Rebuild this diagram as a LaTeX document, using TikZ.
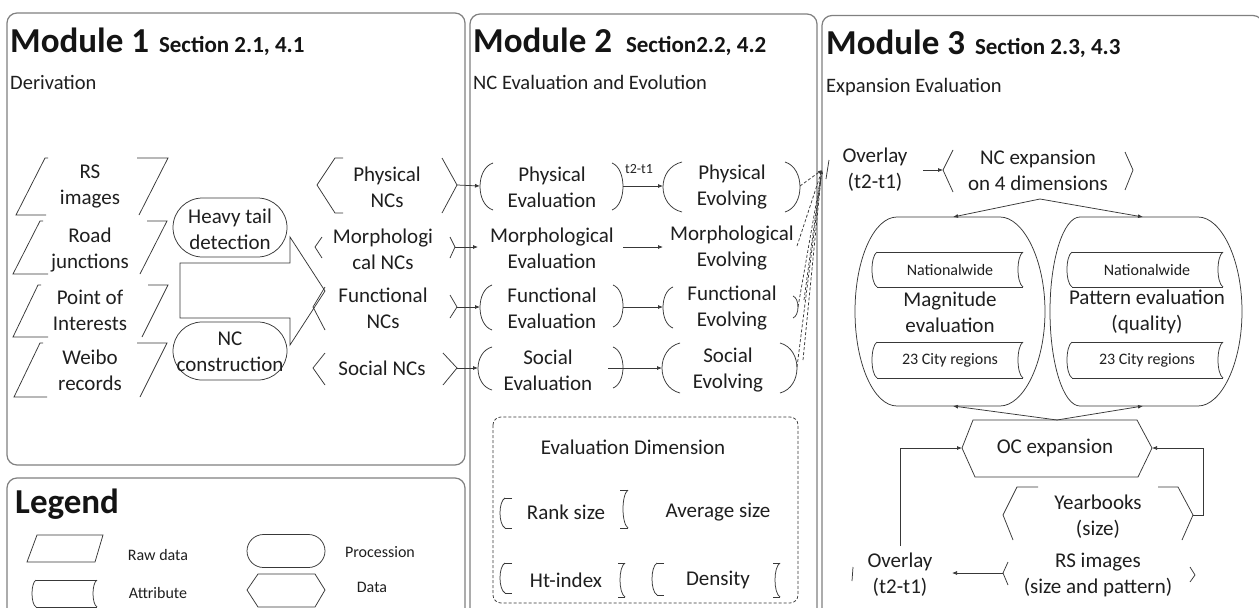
\documentclass[tikz,border=0pt]{standalone}
\usepackage{fontspec}
\setmainfont{Carlito}
\usetikzlibrary{arrows.meta,shapes.misc}
\newcommand\brk[4]{\draw[ln] (#1,#3) .. controls ({#1+(#2-#1)*1.333},{#3+0.12*(#4-#3)}) and ({#1+(#2-#1)*1.333},{#4-0.12*(#4-#3)}) .. (#1,#4);}
\begin{document}
\begin{tikzpicture}[x=1pt,y=-1pt,
  box/.style={draw=black!50,line width=1.2pt,rounded corners=10pt},
  ln/.style={draw=black!78,line width=0.75pt},
  dl/.style={ln,dash pattern=on 3pt off 2pt},
  arr/.style={ln,-{Latex[length=5pt,width=4pt]}},
  txt/.style={align=center,inner sep=0pt,font=\fontsize{21}{26}\selectfont,text=black!88},
  sm/.style={txt,font=\fontsize{16}{19}\selectfont},
  ttl/.style={anchor=base west,inner sep=0pt,font=\fontsize{35}{40}\selectfont\bfseries,text=black!92},
  sub/.style={anchor=base west,inner sep=0pt,font=\fontsize{20.5}{24}\selectfont,text=black!88},
]
\useasboundingbox (0,0) rectangle (1259,608);
\fill[white] (0,0) rectangle (1259,608);
% module frames
\draw[box] (7,13) rectangle (465,465);
\draw[box] (7,478) rectangle (465,640);
\draw[box] (470,14) rectangle (817,640);
\draw[box] (822,15.5) rectangle (1263,640);
% titles
\node[ttl] (t1) at (10,52) {Module 1\hspace{10pt}{\fontsize{23}{26}\selectfont Section 2.1, 4.1}};
\node[sub] (s1) at (10,89) {Derivation};
\node[ttl] (t2) at (473,52) {Module 2\hspace{14pt}{\fontsize{23}{26}\selectfont Section2.2, 4.2}};
\node[sub] (s2) at (473,89) {NC Evaluation and Evolution};
\node[ttl] (t3) at (826,54) {Module 3\hspace{10pt}{\fontsize{23}{26}\selectfont Section 2.3, 4.3}};
\node[sub] (s3) at (826,92) {Expansion Evaluation};

% ---------- Module 1 ----------
\node[txt] (rs) at (90,186) {RS\\images};
\draw[ln] (48,158) -- (45,158) -- (16,215) -- (46,215);
\draw[ln] (137,158) -- (168,158) -- (139,215);
\node[txt] (rj) at (90,250) {Road\\junctions};
\draw[ln] (43,221) -- (40,221) -- (13,274) -- (48,274);
\draw[ln] (147,221) -- (167,221) -- (140,274);
\node[txt] (poi) at (90,310) {Point of\\Interests};
\draw[ln] (41,285) -- (38,285) -- (13,337) -- (48,337);
\draw[ln] (148,285) -- (168,285) -- (142,337);
\node[txt] (wb) at (90,370) {Weibo\\records};
\draw[ln] (43,343) -- (40,343) -- (14,397) -- (47,397);
\draw[ln] (137,343) -- (167,343) -- (140,397);

\node[ln,rounded rectangle,minimum width=114pt,minimum height=59pt,inner sep=0pt] (htS) at (230,227.5) {};
\node[txt] (ht) at (230,229) {Heavy tail\\detection};
\node[ln,rounded rectangle,minimum width=114pt,minimum height=58pt,inner sep=0pt] (ncS) at (230,351) {};
\node[txt] (nc) at (230,352) {NC\\construction};
\draw[ln] (180,263) -- (290,263) -- (290,237) -- (325,291) -- (290,345) -- (290,318) -- (180,318) -- cycle;

% NCs
\node[txt] (pn) at (387,187) {Physical\\NCs};
\draw[ln] (343,158) -- (335,158) -- (317,185) -- (335,213) -- (343,213);
\draw[ln] (442,158) -- (457,185) -- (442,213);
\node[txt] (mn) at (383,249) {Morphologi\\cal NCs};
\draw[ln] (322,237) -- (315,247) -- (322,258);
\draw[ln] (450,237) -- (455,247) -- (450,258);
\node[txt] (fn) at (383,308) {Functional\\NCs};
\draw[ln] (325,287) -- (313,307) -- (325,330);
\draw[ln] (450,295) -- (457,307) -- (450,318);
\node[txt] (sn) at (382,368) {Social NCs};
\draw[ln] (325,353) -- (313,368) -- (325,385);
\draw[ln] (443,353) -- (457,368) -- (443,385);
\coordinate (pnR) at (457,185);
\coordinate (mnR) at (455,247);
\coordinate (fnR) at (457,307);
\coordinate (snR) at (457,368);

% ---------- Module 2 ----------
\node[txt] (pe) at (552,187) {Physical\\Evaluation};
\brk{493}{480}{163}{210} \brk{612}{623}{163}{210}
\node[txt] (pv) at (732,187) {Physical\\Evolving};
\brk{682}{663}{162}{212} \brk{785}{800}{162}{212}
\node[txt] (me) at (552,248) {Morphological\\Evaluation};
\node[txt] (mv) at (732,248) {Morphological\\Evolving};
\node[txt] (fe) at (552,308) {Functional\\Evaluation};
\brk{492}{480}{285}{330} \brk{613}{623}{285}{327}
\node[txt] (fv) at (732,308) {Functional\\Evolving};
\brk{673}{663}{287}{328} \brk{793}{798}{296}{318}
\node[txt] (se) at (548,370) {Social\\Evaluation};
\brk{492}{478}{347}{390} \brk{613}{623}{347}{388}
\node[txt] (sv) at (728,370) {Social\\Evolving};
\brk{680}{662}{343}{393} \brk{780}{797}{343}{393}

\coordinate (peL) at (480,186);
\coordinate (meL) at (478,247);
\coordinate (feL) at (480,307);
\coordinate (seL) at (478,368);
\draw[arr] (pnR) -- (peL);
\draw[arr] (mnR) -- (meL);
\draw[arr] (fnR) -- (feL);
\draw[arr] (snR) -- (seL);

\coordinate (peR) at (623,186);
\coordinate (pvL) at (663,186);
\coordinate (meR) at (623,247);
\coordinate (mvL) at (663,247);
\coordinate (feR) at (623,307);
\coordinate (fvL) at (663,307);
\coordinate (seR) at (608,368);
\coordinate (svL) at (662,368);
\draw[arr] (peR) -- node[above=9pt,xshift=-4pt,font=\fontsize{14}{16}\selectfont,text=black!85] (dt) {t2-t1} (pvL);
\draw[arr] (meR) -- (mvL);
\draw[arr] (feR) -- (fvL);
\draw[arr] (seR) -- (svL);

% dashed convergence
\coordinate (pvR) at (800,186);
\coordinate (mvR) at (797,246);
\coordinate (fvR) at (798,307);
\coordinate (svR) at (797,367);
\coordinate (ovL) at (822,170);
\draw[dl,-{Latex[length=4pt,width=3pt]}] (pvR) -- (ovL);
\draw[dl,-{Latex[length=4pt,width=3pt]}] (mvR) -- (ovL);
\draw[dl,-{Latex[length=4pt,width=3pt]}] (fvR) -- (ovL);
\draw[dl,-{Latex[length=4pt,width=3pt]}] (svR) -- (ovL);
\draw[dl] (804,300) -- (821,175);
\draw[dl] (803,360) -- (821,178);

% evaluation dimension
\draw[ln,dash pattern=on 3pt off 2pt,rounded corners=8pt] (493,417) rectangle (798,603);
\node[txt] (ed) at (633,447) {Evaluation Dimension};
\node[txt] (rk) at (566,512) {Rank size};
\draw[ln] (512,498) -- (505,498); \brk{505}{500}{498}{528} \draw[ln] (505,528) -- (512,528);
\draw[ln] (620,490) -- (628,490); \brk{628}{623}{490}{528} \draw[ln] (628,528) -- (620,528);
\node[txt] (av) at (718,512) {Average size};
\node[txt] (hi) at (566,580) {Ht-index};
\draw[ln] (512,563) -- (505,563); \brk{505}{500}{563}{593} \draw[ln] (505,593) -- (512,593);
\draw[ln] (618,563) -- (625,563); \brk{625}{620}{563}{597} \draw[ln] (625,597) -- (618,597);
\node[txt] (dn) at (718,580) {Density};
\draw[ln] (664,563) -- (657,563); \brk{657}{652}{563}{595} \draw[ln] (657,595) -- (664,595);
\draw[ln] (773,563) -- (780,563); \brk{780}{775}{563}{597} \draw[ln] (780,597) -- (773,597);

% ---------- Module 3 ----------
\node[txt] (ov1) at (875,170) {Overlay\\(t2-t1)};
\draw[ln] (829,160) -- (826,179);
\node[txt] (nce) at (1038,170) {NC expansion\\on 4 dimensions};
\draw[ln] (953,150) -- (943,170) -- (953,192);
\draw[ln] (1125,152) -- (1133,170) -- (1125,190);
\coordinate (ov1R) at (923,170);
\coordinate (nceL) at (943,170);
\draw[arr] (ov1R) -- (nceL);
\coordinate (nceB) at (1040,199);

% magnitude
\draw[ln] (897,217) -- (1000,217) .. controls (1023.2,217) and (1045,259.3) .. (1045,311.5)
  .. controls (1045,363.7) and (1023.2,406) .. (1000,406) -- (897,406)
  .. controls (873.8,406) and (855,363.7) .. (855,311.5)
  .. controls (855,259.3) and (873.8,217) .. cycle;
\node[txt] (mg) at (950,312) {Magnitude\\evaluation};
% pattern
\draw[ln] (1080,217) -- (1198,217) .. controls (1221.2,217) and (1242,259.3) .. (1242,311.5)
  .. controls (1242,363.7) and (1221.2,406) .. (1198,406) -- (1080,406)
  .. controls (1063.4,406) and (1050,363.7) .. (1050,311.5)
  .. controls (1050,259.3) and (1063.4,217) .. cycle;
\node[txt] (pt) at (1147,312) {Pattern evaluation\\(quality)};
\coordinate (mgT) at (953,217);
\coordinate (ptT) at (1143,217);
\coordinate (mgB) at (953,406);
\coordinate (ptB) at (1143,406);
\draw[arr] (nceB) -- (mgT);
\draw[arr] (nceB) -- (ptT);

% stored-data boxes
\draw[ln] (877,252) -- (1023,252); \draw[ln] (877,287) -- (1023,287);
\brk{877}{872}{252}{287} \brk{1023}{1018}{252}{287}
\node[sm] (nw1) at (950,270) {Nationalwide};
\draw[ln] (877,342) -- (1023,342); \draw[ln] (877,378) -- (1023,378);
\brk{877}{872}{342}{378} \brk{1023}{1018}{342}{378}
\node[sm] (cr1) at (950,360) {23 City regions};
\draw[ln] (1072,252) -- (1223,252); \draw[ln] (1072,287) -- (1223,287);
\brk{1072}{1067}{252}{287} \brk{1223}{1218}{252}{287}
\node[sm] (nw2) at (1147,270) {Nationalwide};
\draw[ln] (1072,342) -- (1223,342); \draw[ln] (1072,378) -- (1223,378);
\brk{1072}{1067}{342}{378} \brk{1223}{1218}{342}{378}
\node[sm] (cr2) at (1147,360) {23 City regions};

% OC expansion
\draw[ln] (973,420) -- (1137,420) -- (1152,448) -- (1138,477) -- (975,477) -- (962,448) -- cycle;
\node[txt] (oc) at (1055,448) {OC expansion};
\coordinate (ocT) at (1057,420);
\coordinate (ocL) at (962,448);
\coordinate (ocR) at (1152,448);
\draw[arr] (ocT) -- (mgB);
\draw[arr] (ocT) -- (ptB);

% yearbooks
\node[txt] (yb) at (1098,517) {Yearbooks\\(size)};
\draw[ln] (1038,487) -- (1017,487) -- (1003,515) -- (1013,540);
\draw[ln] (1158,487) -- (1178,487) -- (1193,515) -- (1182,540);
\coordinate (ybR) at (1193,515);
\draw[arr] (ybR) -- (1203,515) |- (ocR);

% RS images (bottom)
\node[txt] (rs2) at (1098,575) {RS images\\(size and pattern)};
\draw[ln] (1008,562) -- (1003,573) -- (1008,585);
\draw[ln] (1190,567) -- (1195,575) -- (1190,582);
\coordinate (rs2L) at (1003,573);
\node[txt] (ov2) at (900,575) {Overlay\\(t2-t1)};
\draw[ln] (853,567) -- (852,581);
\coordinate (ov2R) at (952,573);
\draw[arr] (rs2L) -- (ov2R);
\coordinate (ov2T) at (900,546);
\draw[arr] (ov2T) |- (ocL);

% ---------- Legend ----------
\node[ttl] (lg) at (15,513) {Legend};
\draw[ln] (37,535) -- (103,535) -- (95,562) -- (27,562) -- cycle;
\node[sm] (lrd) at (158,555) {Raw data};
\node[ln,rounded rectangle,minimum width=78pt,minimum height=33pt,inner sep=0pt] (lpr) at (286,551) {};
\node[sm] (lprt) at (380,552) {Procession};
\draw[ln] (36,580) -- (97,580); \draw[ln] (36,607) -- (97,607);
\brk{36}{32}{580}{607} \brk{97}{93}{580}{607}
\node[sm] (lat) at (158,593) {Attribute};
\draw[ln] (258,574) -- (315,574) -- (325,590) -- (315,607) -- (258,607) -- (247,590) -- cycle;
\node[sm] (ldt) at (372,587) {Data};
\end{tikzpicture}
\end{document}
